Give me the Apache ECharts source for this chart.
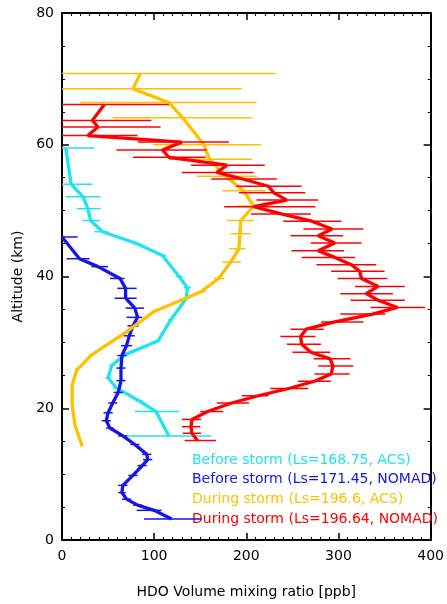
<!DOCTYPE html>
<html>
<head>
<meta charset="utf-8">
<script src="https://cdn.jsdelivr.net/npm/echarts@6/dist/echarts.min.js"></script>
<style>
  html, body { margin: 0; padding: 0; background: #fff; }
  #chart { width: 447px; height: 604px; }
</style>
</head>
<body>
<div id="chart"></div>
<script>
// legend names
var seriesNames = [
  "Before storm (Ls=168.75, ACS)",
  "Before storm (Ls=171.45, NOMAD)",
  "During storm (Ls=196.6, ACS)",
  "During storm (Ls=196.64, NOMAD)"
];
var colors = ["#1ee3f0", "#1515e6", "#ffc000", "#ff0000"];

// before storm, ACS
var acsBeforeAlt = [59.5, 54.0, 52.1, 50.3, 48.5, 46.8, 45.0, 43.2, 40.0, 38.3, 36.7, 33.4, 30.2, 28.1, 26.5, 24.6, 23.1, 21.1, 19.5, 15.8];
var acsBeforeVal = [4, 10, 23, 28, 31, 44, 81, 109, 127, 136, 135, 118, 104, 68, 54, 50, 59, 84, 102, 116];
var acsBeforeLo  = [0, 0, 4, 16, 22, 35, 77, 106, 123, 132, 131, 115, 101, 65, 51, 47, 56, 80, 79, 71];
var acsBeforeHi  = [35, 33, 42, 42, 41, 50, 85, 113, 131, 140, 139, 121, 107, 71, 57, 53, 62, 88, 127, 162];

// before storm, NOMAD
var nomadBeforeAlt = [46.0, 42.7, 41.5, 39.7, 38.2, 36.7, 35.2, 33.8, 32.5, 31.0, 29.5, 28.0, 26.1, 24.2, 22.4, 20.8, 19.3, 18.1, 17.0, 15.8, 14.5, 13.0, 12.2, 11.3, 9.8, 8.3, 7.2, 6.2, 5.3, 4.5, 3.2];
var nomadBeforeVal = [0, 19, 39, 63, 69, 69, 79, 82, 77, 73, 70, 65, 64, 64, 61, 55, 50, 48, 52, 66, 79, 92, 93, 87, 77, 66, 65, 70, 82, 100, 119];
var nomadBeforeLo  = [0, 5, 32, 52, 60, 57, 69, 70, 71, 67, 64, 60, 59, 59, 56, 50, 45, 43, 48, 61, 74, 87, 88, 82, 72, 61, 61, 65, 77, 81, 89];
var nomadBeforeHi  = [17, 30, 50, 68, 81, 81, 89, 87, 83, 79, 76, 70, 69, 69, 66, 60, 55, 53, 56, 71, 84, 97, 98, 92, 82, 71, 69, 75, 87, 108, 151];

// during storm, ACS
var acsDuringAlt = [70.8, 68.5, 66.4, 64.1, 60.0, 57.8, 55.2, 53.0, 50.7, 48.5, 46.5, 44.2, 42.2, 39.7, 37.7, 34.7, 31.4, 28.1, 25.8, 23.5, 20.5, 17.5, 14.2];
var acsDuringVal = [85, 77, 116, 131, 154, 160, 178, 197, 208, 194, 193, 192, 183, 170, 151, 100, 68, 32, 16, 11, 11, 14, 22];
var acsDuringLo  = [0, 0, 20, 55, 99, 116, 146, 174, 190, 179, 183, 181, 174, 165, 147, 97, 65, 29, 16, 11, 11, 14, 22];
var acsDuringHi  = [232, 195, 211, 206, 216, 206, 211, 221, 224, 208, 205, 199, 194, 176, 156, 104, 71, 35, 16, 11, 11, 14, 22];

// during storm, NOMAD
var nomadDuringAlt = [66.1, 63.7, 62.7, 61.4, 60.4, 59.2, 58.1, 56.9, 55.8, 54.8, 53.7, 52.7, 51.6, 50.6, 49.5, 48.4, 47.2, 46.2, 45.1, 43.9, 42.9, 41.8, 40.8, 39.7, 38.5, 37.4, 36.4, 35.3, 34.3, 33.1, 32.0, 30.9, 29.7, 28.5, 27.5, 26.4, 25.2, 24.1, 23.0, 21.9, 20.8, 19.5, 18.3, 17.2, 16.2, 15.1];
var nomadDuringVal = [46, 33, 39, 28, 130, 109, 116, 179, 168, 196, 224, 230, 244, 208, 238, 271, 293, 278, 296, 278, 296, 314, 323, 325, 343, 330, 343, 364, 337, 296, 265, 259, 260, 270, 291, 294, 292, 274, 246, 213, 184, 158, 141, 140, 141, 147];
var nomadDuringLo  = [0, 0, 0, 0, 82, 59, 77, 140, 130, 162, 189, 192, 211, 176, 205, 240, 262, 248, 270, 249, 260, 276, 292, 299, 318, 302, 313, 335, 302, 281, 248, 237, 244, 250, 273, 278, 274, 256, 226, 195, 168, 150, 130, 130, 131, 133];
var nomadDuringHi  = [116, 97, 107, 82, 181, 157, 156, 220, 208, 233, 260, 264, 278, 275, 270, 303, 327, 305, 325, 306, 318, 341, 350, 353, 372, 359, 372, 394, 351, 327, 284, 275, 281, 291, 313, 316, 312, 292, 267, 224, 203, 175, 151, 150, 151, 167];

var xTicks = [0, 100, 200, 300, 400];
var yTicks = [0, 20, 40, 60, 80];

var profiles = [
  { alt: acsBeforeAlt, val: acsBeforeVal, lo: acsBeforeLo, hi: acsBeforeHi },
  { alt: nomadBeforeAlt, val: nomadBeforeVal, lo: nomadBeforeLo, hi: nomadBeforeHi },
  { alt: acsDuringAlt, val: acsDuringVal, lo: acsDuringLo, hi: acsDuringHi },
  { alt: nomadDuringAlt, val: nomadDuringVal, lo: nomadDuringLo, hi: nomadDuringHi }
];

var FONT = "DejaVu Sans";
var myChart = echarts.init(document.getElementById("chart"));

var series = [];
profiles.forEach(function (p, i) {
  // horizontal error bars
  series.push({
    type: "custom",
    name: seriesNames[i],
    clip: true,
    silent: true,
    encode: { x: [1, 2], y: 0 },
    data: p.alt.map(function (a, k) { return [a, p.lo[k], p.hi[k]]; }),
    renderItem: function (params, api) {
      var a = api.coord([api.value(1), api.value(0)]);
      var b = api.coord([api.value(2), api.value(0)]);
      return {
        type: "line",
        shape: { x1: a[0], y1: a[1], x2: b[0], y2: b[1] },
        style: { stroke: colors[i], lineWidth: 1.5 }
      };
    },
    z: 2 + i * 2
  });
  // profile line
  series.push({
    type: "line",
    name: seriesNames[i],
    showSymbol: false,
    symbol: "none",
    lineStyle: { color: colors[i], width: 3.3 },
    itemStyle: { color: colors[i] },
    data: p.alt.map(function (a, k) { return [p.val[k], a]; }),
    z: 3 + i * 2,
    animation: false
  });
});

var axisCommon = {
  type: "value",
  axisLine: { show: true, onZero: false, lineStyle: { color: "#000", width: 2 } },
  axisTick: { show: true, inside: true, length: 7, lineStyle: { color: "#000", width: 1.5 } },
  minorTick: { show: true, length: 3, lineStyle: { color: "#000", width: 1 } },
  splitLine: { show: false }
};

var option = {
  animation: false,
  backgroundColor: "#fff",
  grid: { left: 62, right: 14, top: 13, bottom: 61 },
  legend: {
    orient: "vertical",
    left: 182,
    top: 448,
    icon: "none",
    itemWidth: 0,
    itemHeight: 14,
    itemGap: 5.7,
    selectedMode: false,
    textStyle: { fontFamily: FONT, fontSize: 14 },
    data: seriesNames.map(function (n, i) {
      return { name: n, textStyle: { color: colors[i] } };
    })
  },
  xAxis: [
    Object.assign({}, axisCommon, {
      min: xTicks[0], max: xTicks[xTicks.length - 1], interval: 100,
      minorTick: Object.assign({}, axisCommon.minorTick, { splitNumber: 10 }),
      position: "bottom",
      name: "HDO Volume mixing ratio [ppb]",
      nameLocation: "middle",
      nameGap: 45,
      nameTextStyle: { fontFamily: FONT, fontSize: 14, color: "#000" },
      axisLabel: { fontFamily: FONT, fontSize: 14, color: "#000", margin: 9 }
    }),
    Object.assign({}, axisCommon, {
      min: xTicks[0], max: xTicks[xTicks.length - 1], interval: 100,
      minorTick: Object.assign({}, axisCommon.minorTick, { splitNumber: 10 }),
      position: "top",
      axisLabel: { show: false }
    })
  ],
  yAxis: [
    Object.assign({}, axisCommon, {
      min: yTicks[0], max: yTicks[yTicks.length - 1], interval: 20,
      minorTick: Object.assign({}, axisCommon.minorTick, { splitNumber: 4 }),
      position: "left",
      name: "Altitude (km)",
      nameLocation: "middle",
      nameGap: 37,
      nameTextStyle: { fontFamily: FONT, fontSize: 14, color: "#000" },
      axisLabel: { fontFamily: FONT, fontSize: 14, color: "#000", margin: 8 }
    }),
    Object.assign({}, axisCommon, {
      min: yTicks[0], max: yTicks[yTicks.length - 1], interval: 20,
      minorTick: Object.assign({}, axisCommon.minorTick, { splitNumber: 4 }),
      position: "right",
      axisLabel: { show: false }
    })
  ],
  series: series
};

myChart.setOption(option);
</script>
</body>
</html>
